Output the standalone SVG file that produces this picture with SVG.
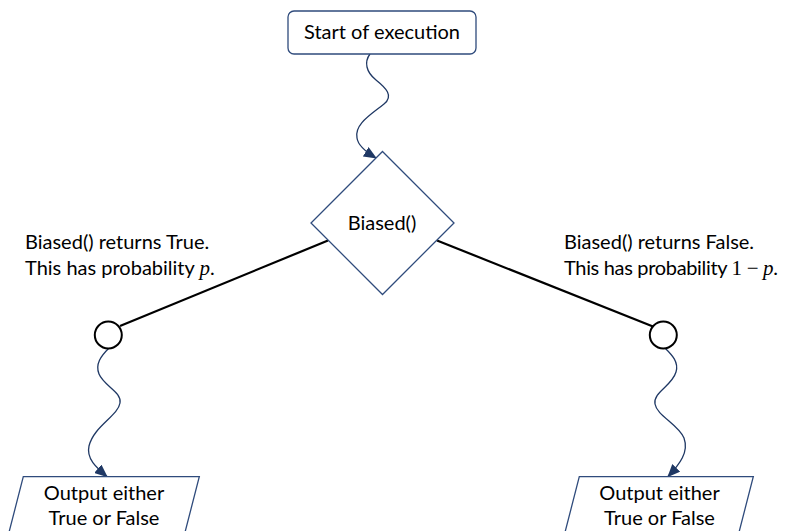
<svg xmlns="http://www.w3.org/2000/svg" width="795" height="531" viewBox="0 0 795 531">
<style>
  .shape { fill: #ffffff; stroke: #2F4B7C; stroke-width: 1.3; }
  .node { fill: #ffffff; stroke: #000000; stroke-width: 2; }
  .branch { stroke: #000000; stroke-width: 2.2; fill: none; }
  .wave { stroke: #1F3864; stroke-width: 1.3; fill: none; marker-end: url(#arrow); }
  text { font-family: Lato, "Liberation Sans", sans-serif; font-size: 20px; fill: #000000; }
  .c { text-anchor: middle; }
  .math { font-family: "Liberation Serif", serif; font-style: italic; font-size: 21px; }
  .mathup { font-family: "Liberation Serif", serif; font-size: 21px; }
</style>
<defs>
  <marker id="arrow" markerUnits="userSpaceOnUse" markerWidth="13" markerHeight="11" viewBox="0 0 13 11" refX="12" refY="5.5" orient="auto">
    <path d="M0,0 L13,5.5 L0,11 Z" fill="#1F3864"/>
  </marker>
</defs>

<g id="connectors">
  <line class="branch" x1="120" y1="326" x2="328" y2="240.5"/>
  <line class="branch" x1="653" y1="326.5" x2="437" y2="240.5"/>
  <path class="wave" d="M370,54 C364,62 366,72 376,80 C386,88 394,96 384,104 C372,114 354,124 357,138 C358,146 366,152 376,158"/>
  <path class="wave" d="M109,348 C101,356 95,364 99,374 C104,386 122,392 120,403 C118,416 94,426 89,446 C86,459 97,468 107,476.5"/>
  <path class="wave" d="M665,348 C672,355 679,362 676,372 C672,386 653,392 655,404 C657,416 678,424 684,438 C689,452 680,464 668,476.5"/>
</g>

<g id="start">
  <rect class="shape" x="288" y="11" width="188" height="43" rx="6" ry="6"/>
  <text class="c" x="382" y="39">Start of execution</text>
</g>

<g id="biased">
  <polygon class="shape" points="382.5,151.5 454,223 382.5,294.5 311,223"/>
  <text class="c" x="382" y="230">Biased()</text>
</g>

<g id="node-true">
  <circle class="node" cx="108.3" cy="335" r="13.5"/>
</g>

<g id="node-false">
  <circle class="node" cx="663.3" cy="335" r="13.5"/>
</g>

<g id="label-true">
  <text x="25" y="249">Biased() returns True.</text>
  <text x="25" y="275">This has probability <tspan class="math">p</tspan>.</text>
</g>

<g id="label-false">
  <text x="564" y="249">Biased() returns False.</text>
  <text x="564" y="275" textLength="214">This has probability <tspan class="mathup">1 − </tspan><tspan class="math">p</tspan>.</text>
</g>

<g id="output-true">
  <polygon class="shape" points="23.3,476.7 199.3,476.7 181.3,546.7 5.3,546.7"/>
  <text class="c" x="104" y="500">Output either</text>
  <text class="c" x="104" y="525">True or False</text>
</g>

<g id="output-false">
  <polygon class="shape" points="579.3,476.7 753.3,476.7 735.3,546.7 561.3,546.7"/>
  <text class="c" x="659.5" y="500">Output either</text>
  <text class="c" x="659.5" y="525">True or False</text>
</g>
</svg>
